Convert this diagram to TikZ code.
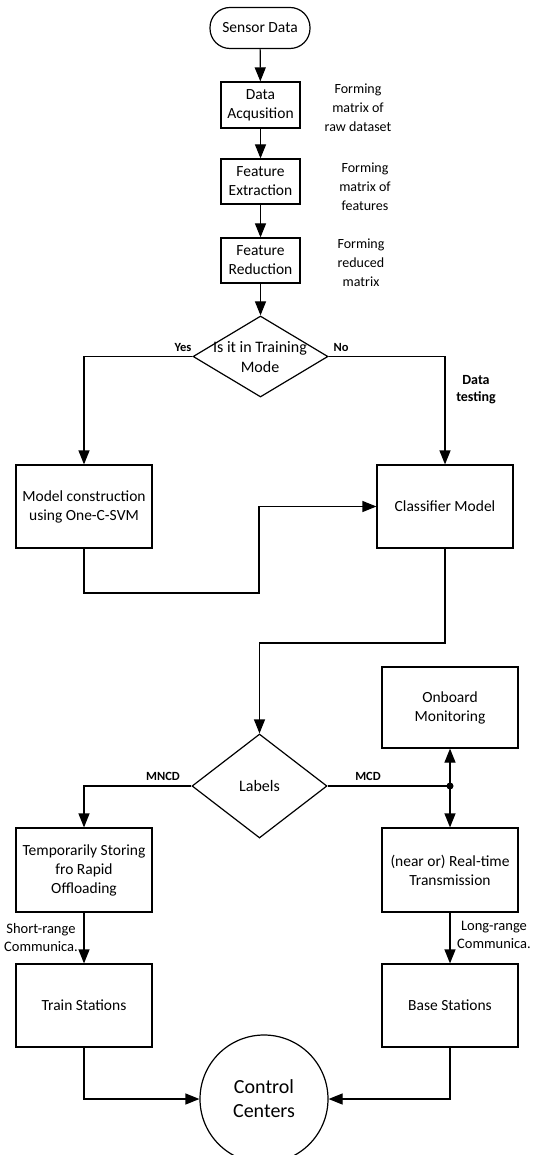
\documentclass[tikz,border=0pt]{standalone}
\usepackage{fontspec}
\setmainfont{Carlito}
\usetikzlibrary{arrows.meta,shapes.geometric}
\begin{document}
\begin{tikzpicture}[x=1pt,y=-1pt,
  line width=1.2pt,
  arr/.style={-{Triangle[length=14pt,width=11pt]}},
  box/.style={draw,rectangle,inner sep=0pt,align=center,font=\fontsize{15.5}{19}\selectfont},
  dia/.style={draw,diamond,inner sep=0pt},
  dtext/.style={align=center,font=\fontsize{16}{20}\selectfont},
  side/.style={align=center,font=\fontsize{14}{19}\selectfont},
  lab/.style={font=\fontsize{12.5}{14}\bfseries\selectfont},
  comm/.style={align=center,font=\fontsize{14.5}{18}\selectfont}]
\useasboundingbox (0,0) rectangle (533,1155);
\clip (0,0) rectangle (533,1155);
% nodes
\node[box,rounded corners=20pt,minimum width=100pt,minimum height=41pt] (sensor) at (260,28) {Sensor Data};
\node[box,minimum width=79pt,minimum height=46pt] (acq) at (260.5,105) {Data\\Acqusition};
\node[box,minimum width=79pt,minimum height=45pt] (ext) at (260.5,181.5) {Feature\\Extraction};
\node[box,minimum width=79pt,minimum height=45pt] (red) at (260.5,260.5) {Feature\\Reduction};
\node[side] (s1) at (358,108) {Forming\\matrix of\\raw dataset};
\node[side] (s2) at (365,187) {Forming\\matrix of\\features};
\node[side] (s3) at (361,263) {Forming\\reduced\\matrix};
\node[dia,minimum width=135pt,minimum height=81pt] (d1) at (260.5,356.5) {};
\node[dtext] (d1t) at (260,357) {Is it in Training\\Mode};
\node[box,minimum width=136pt,minimum height=83pt] (model) at (84,506.5) {Model construction\\using One-C-SVM};
\node[box,minimum width=136pt,minimum height=83pt] (clf) at (445,506.5) {Classifier Model};
\node[dia,minimum width=135pt,minimum height=104pt] (d2) at (259.5,786) {};
\node[dtext] (d2t) at (259.5,786) {Labels};
\node[box,minimum width=136pt,minimum height=81pt] (onb) at (450,707.5) {Onboard\\Monitoring};
\node[box,minimum width=136pt,minimum height=84pt] (temp) at (84,870) {Temporarily Storing\\fro Rapid\\Offloading};
\node[box,minimum width=136pt,minimum height=84pt] (rt) at (450,870) {(near or) Real-time\\Transmission};
\node[box,minimum width=136pt,minimum height=83pt] (ts) at (84,1005.5) {Train Stations};
\node[box,minimum width=136pt,minimum height=83pt] (bs) at (450,1005.5) {Base Stations};
\node[draw,circle,minimum size=128pt,inner sep=0pt,align=center,font=\fontsize{20}{24}\selectfont] (cc) at (264,1099) {Control\\Centers};
% labels
\node[lab] (yes) at (183,347) {Yes};
\node[lab] (no) at (341,347) {No};
\node[align=center,font=\fontsize{14}{17}\bfseries\selectfont] (dt) at (476,390) {Data\\testing};
\node[lab] (mncd) at (163,776) {MNCD};
\node[lab] (mcd) at (368,776) {MCD};
\node[comm] (sr) at (41,938) {Short-range\\Communica.};
\node[comm] (lr) at (494,935) {Long-range\\Communica.};
% connectors
\draw[arr] (sensor) -- (acq);
\draw[arr] (acq) -- (ext);
\draw[arr] (ext) -- (red);
\draw[arr] (red) -- (d1);
\draw[arr] (d1.west) -| (model.north);
\draw[arr] (d1.east) -| (clf.north);
\coordinate (m1) at (259,593);
\draw[arr] (model.south) |- (m1) |- (clf.west);
\coordinate (c1) at (445,643);
\draw[arr] (clf.south) -- (c1) -| (d2.north);
\draw[arr] (d2.west) -| (temp.north);
\coordinate (jn) at (450,786);
\draw (d2.east) -- (jn);
\fill (jn) circle (3.5pt);
\draw[arr] (jn) -- (onb.south);
\draw[arr] (jn) -- (rt.north);
\draw[arr] (temp) -- (ts);
\draw[arr] (rt) -- (bs);
\draw[arr] (ts.south) |- (cc.west);
\draw[arr] (bs.south) |- (cc.east);
\end{tikzpicture}
\end{document}
